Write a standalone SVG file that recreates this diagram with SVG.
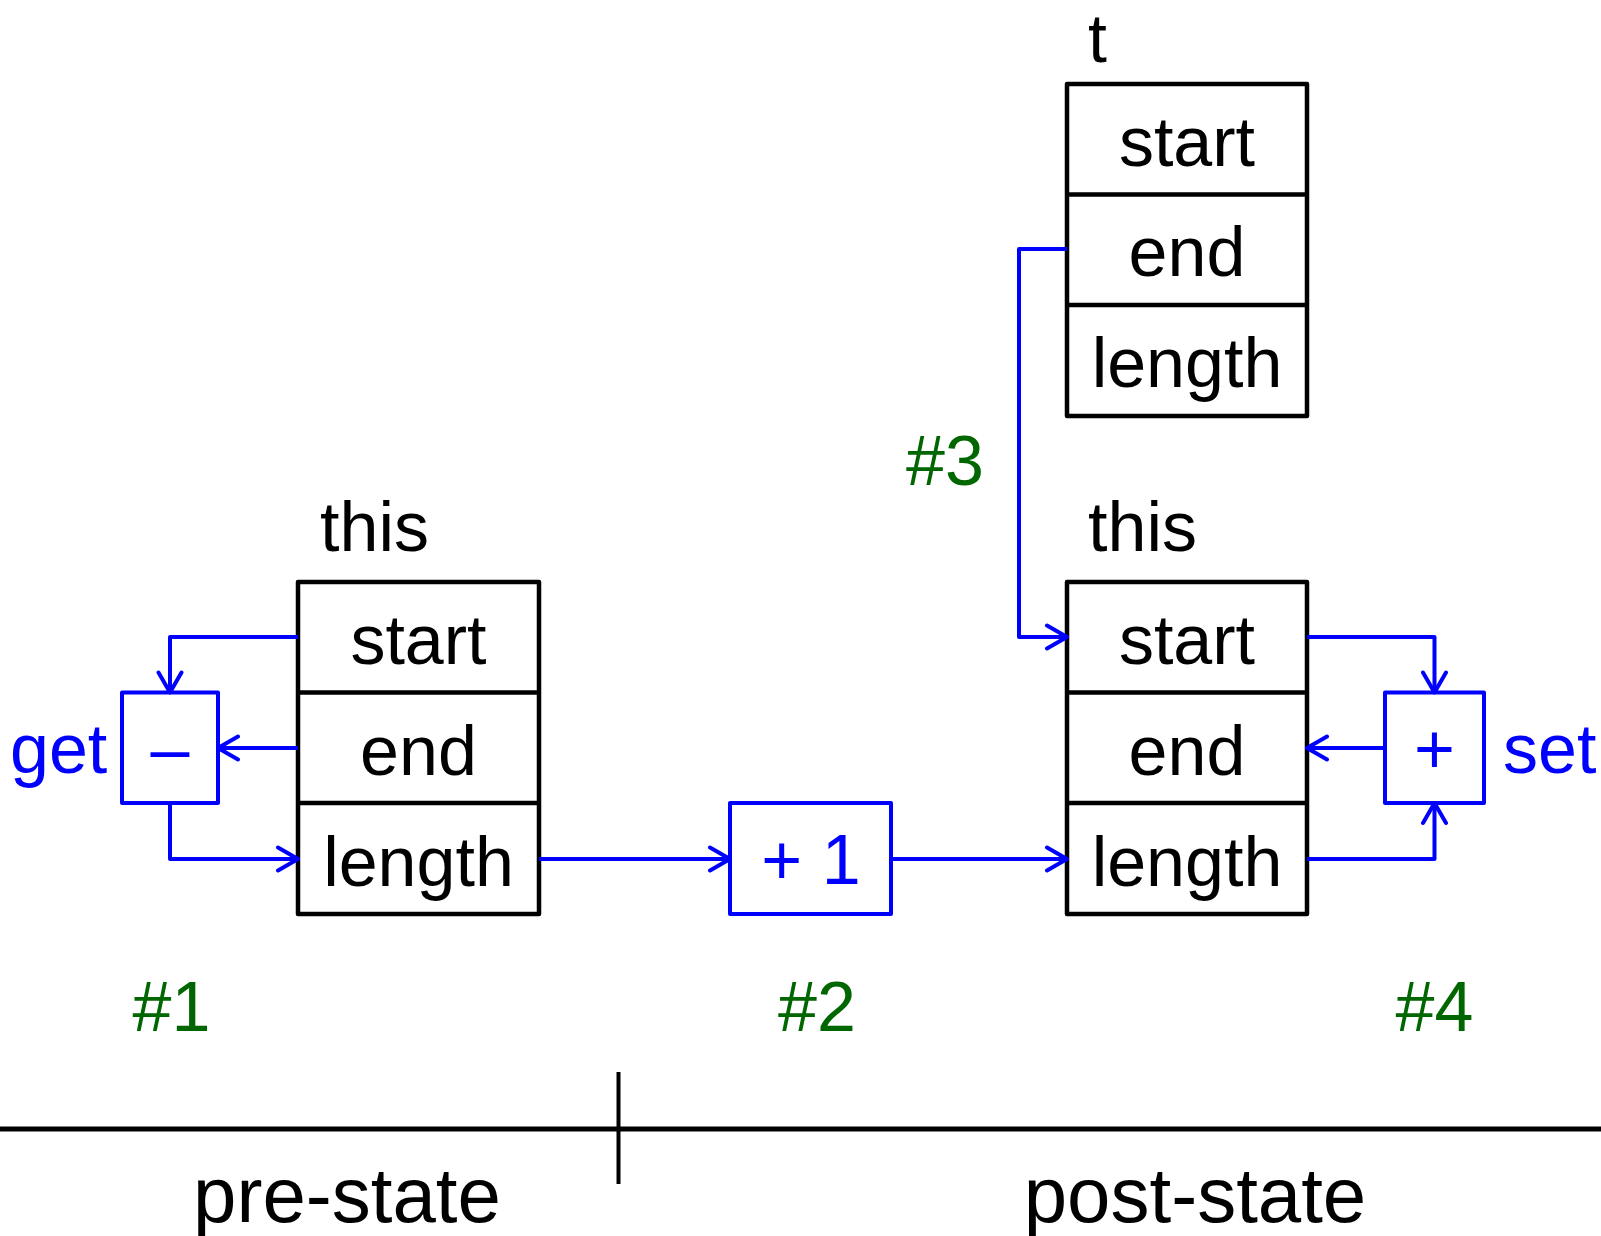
<svg xmlns="http://www.w3.org/2000/svg" width="1601" height="1236" viewBox="0 0 1601 1236">
<style>
.box{fill:#fff;stroke:#000;stroke-width:4.5;stroke-linejoin:round}
.div{stroke:#000;stroke-width:4.5}
.op{fill:#fff;stroke:#0000ff;stroke-width:4;stroke-linejoin:round}
.lbl{font-family:"Liberation Sans",Arial,sans-serif;font-size:70px;fill:#000}
.mid{text-anchor:middle}
.blue{fill:#0000ff}
.green{fill:#006600;text-anchor:middle}
.con{fill:none;stroke:#0000ff;stroke-width:4;stroke-linejoin:round;marker-end:url(#arr)}
.big{font-size:78px}
</style>
<defs>
<marker id="arr" viewBox="0 0 26 28" refX="23" refY="14" markerWidth="26" markerHeight="28" markerUnits="userSpaceOnUse" orient="auto">
<path d="M3,2.5 L23,14 L3,25.5" fill="none" stroke="#0000ff" stroke-width="4" stroke-linecap="round" stroke-linejoin="round"/>
</marker>
</defs>

<g id="t">
<text class="lbl" x="1088" y="62" style="font-size:68px">t</text>
<rect class="box" x="1067" y="84" width="240" height="332"/>
<line class="div" x1="1067" y1="194.5" x2="1307" y2="194.5"/>
<line class="div" x1="1067" y1="305" x2="1307" y2="305"/>
<text class="lbl mid" x="1187" y="166">start</text>
<text class="lbl mid" x="1187" y="276">end</text>
<text class="lbl mid" x="1187" y="387">length</text>
</g>

<g id="this-pre">
<text class="lbl" x="320" y="551">this</text>
<rect class="box" x="298" y="582" width="241" height="332"/>
<line class="div" x1="298" y1="692.5" x2="539" y2="692.5"/>
<line class="div" x1="298" y1="803" x2="539" y2="803"/>
<text class="lbl mid" x="418.5" y="664">start</text>
<text class="lbl mid" x="418.5" y="775">end</text>
<text class="lbl mid" x="418.5" y="886">length</text>
</g>

<g id="this-post">
<text class="lbl" x="1088" y="551">this</text>
<rect class="box" x="1067" y="582" width="240" height="332"/>
<line class="div" x1="1067" y1="692.5" x2="1307" y2="692.5"/>
<line class="div" x1="1067" y1="803" x2="1307" y2="803"/>
<text class="lbl mid" x="1187" y="664">start</text>
<text class="lbl mid" x="1187" y="775">end</text>
<text class="lbl mid" x="1187" y="886">length</text>
</g>

<g id="minus">
<rect class="op" x="122" y="692.5" width="96" height="110.5"/>
<text class="lbl mid blue" x="170" y="773">–</text>
<text class="lbl blue" x="10" y="773">get</text>
</g>

<g id="plus">
<rect class="op" x="1385" y="692.5" width="99" height="110.5"/>
<text class="lbl mid blue" x="1434.5" y="773">+</text>
<text class="lbl blue" x="1503" y="773">set</text>
</g>

<g id="plus1">
<rect class="op" x="730" y="803" width="161" height="111"/>
<text class="lbl mid blue" x="811" y="884">+ 1</text>
</g>

<g id="connectors">
<path class="con" d="M298,637 H170 V692.5"/>
<path class="con" d="M298,748 H218"/>
<path class="con" d="M170,803 V859 H298"/>
<path class="con" d="M539,859 H730"/>
<path class="con" d="M891,859 H1067"/>
<path class="con" d="M1067,249 H1019 V637 H1067"/>
<path class="con" d="M1307,637 H1434.5 V692.5"/>
<path class="con" d="M1385,748 H1307"/>
<path class="con" d="M1307,859 H1434.5 V803"/>
</g>

<g id="steps">
<text class="lbl green" x="171.5" y="1031">#1</text>
<text class="lbl green" x="817" y="1031">#2</text>
<text class="lbl green" x="945" y="485">#3</text>
<text class="lbl green" x="1434.5" y="1031">#4</text>
</g>

<g id="timeline">
<line x1="0" y1="1129" x2="1601" y2="1129" stroke="#000" stroke-width="5"/>
<line x1="618.5" y1="1072" x2="618.5" y2="1184" stroke="#000" stroke-width="4"/>
<text class="lbl mid big" x="347" y="1222">pre-state</text>
<text class="lbl mid big" x="1195" y="1222">post-state</text>
</g>
</svg>
